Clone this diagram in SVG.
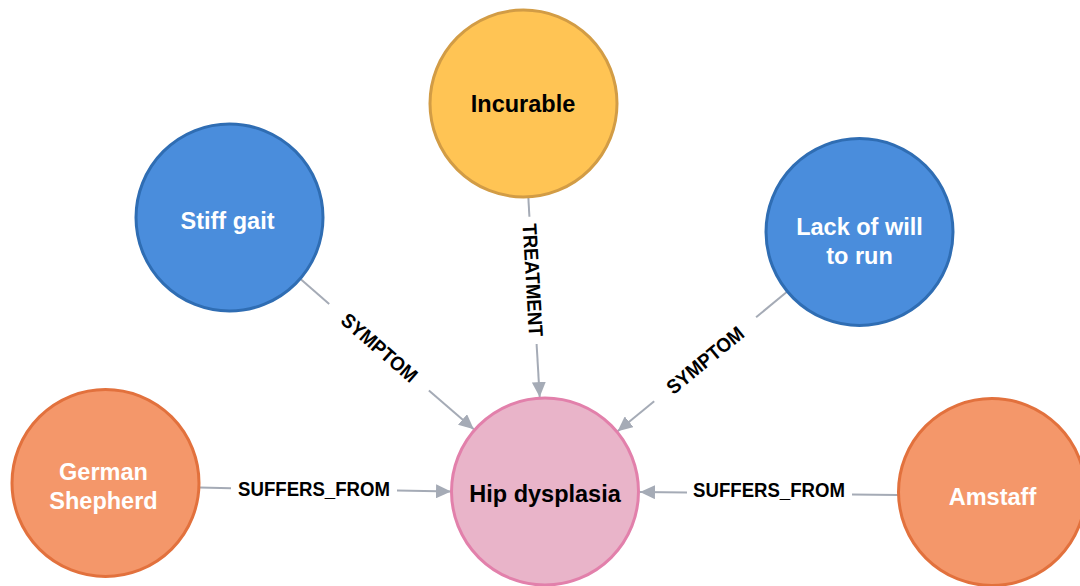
<svg xmlns="http://www.w3.org/2000/svg" width="1080" height="586" viewBox="0 0 1080 586">
<style>
.node circle{stroke-width:3}
.yellow{fill:#FFC454;stroke:#D29C45}
.blue{fill:#4A8DDC;stroke:#2F6DB3}
.orange{fill:#F4976A;stroke:#E2713D}
.pink{fill:#E9B4C9;stroke:#E280AB}
.nt{font-family:"Liberation Sans",Arial,sans-serif;font-weight:bold;font-size:23.5px;text-anchor:middle}
.dark{fill:#000}
.light{fill:#fff}
.edge line{stroke:#A5ABB6;stroke-width:2;fill:none}
.el{font-family:"Liberation Sans",Arial,sans-serif;font-weight:bold;font-size:20px;text-anchor:middle;fill:#000}
</style>
<defs>
<marker id="arr" markerUnits="userSpaceOnUse" markerWidth="16" markerHeight="14" refX="15" refY="7" orient="auto">
<path d="M0,0 L15,7 L0,14 Z" fill="#A5ABB6"/>
</marker>
</defs>
<rect width="1080" height="586" fill="#fff"/>
<g id="connectors">
<g class="edge" id="e-stiff-hip">
<line x1="300.5" y1="279" x2="329.2" y2="303.9"/>
<line x1="428.9" y1="390.4" x2="473.8" y2="429.3" marker-end="url(#arr)"/>
<text class="el" transform="translate(379.5,347.5) rotate(40.9) scale(0.93,1)" y="7.2">SYMPTOM</text>
</g>
<g class="edge" id="e-lack-hip">
<line x1="787" y1="291.8" x2="756.1" y2="317.2"/>
<line x1="654.2" y1="401.2" x2="617.6" y2="431.3" marker-end="url(#arr)"/>
<text class="el" transform="translate(705,360) rotate(-39.5) scale(0.93,1)" y="7.2">SYMPTOM</text>
</g>
<g class="edge" id="e-incurable-hip">
<line x1="528.3" y1="196.8" x2="529.4" y2="216.8"/>
<line x1="536.6" y1="344" x2="539.7" y2="397.1" marker-end="url(#arr)"/>
<text class="el" transform="translate(533,280) rotate(86.75) scale(0.93,1)" y="7.2">TREATMENT</text>
</g>
<g class="edge" id="e-german-hip">
<line x1="199.5" y1="487.5" x2="231" y2="488.3"/>
<line x1="397" y1="490.5" x2="451" y2="491.5" marker-end="url(#arr)"/>
<text class="el" transform="translate(314,489) scale(0.93,1)" y="7.2">SUFFERS_FROM</text>
</g>
<g class="edge" id="e-amstaff-hip">
<line x1="898" y1="495" x2="852" y2="494.6"/>
<line x1="687" y1="492.6" x2="640" y2="492" marker-end="url(#arr)"/>
<text class="el" transform="translate(769,489.7) scale(0.93,1)" y="7.2">SUFFERS_FROM</text>
</g>
</g>
<g id="n-incurable" class="node">
<circle class="yellow" cx="523.5" cy="103.5" r="93.5"/>
<text class="nt dark" x="523" y="111.5">Incurable</text>
</g>
<g id="n-stiff" class="node">
<circle class="blue" cx="229.5" cy="217.5" r="93.5"/>
<text class="nt light" x="227.5" y="228.5">Stiff gait</text>
</g>
<g id="n-lack" class="node">
<circle class="blue" cx="859.5" cy="232" r="93.5"/>
<text class="nt light" x="859.5" y="235">Lack of will</text>
<text class="nt light" x="859.5" y="263.5">to run</text>
</g>
<g id="n-german" class="node">
<circle class="orange" cx="105.5" cy="483" r="93.5"/>
<text class="nt light" x="103.5" y="479.5">German</text>
<text class="nt light" x="103.5" y="508.5">Shepherd</text>
</g>
<g id="n-hip" class="node">
<circle class="pink" cx="545" cy="491.5" r="93.5"/>
<text class="nt dark" x="545" y="501.5">Hip dysplasia</text>
</g>
<g id="n-amstaff" class="node">
<circle class="orange" cx="992" cy="492" r="93.5"/>
<text class="nt light" x="992.5" y="505">Amstaff</text>
</g>
</svg>
